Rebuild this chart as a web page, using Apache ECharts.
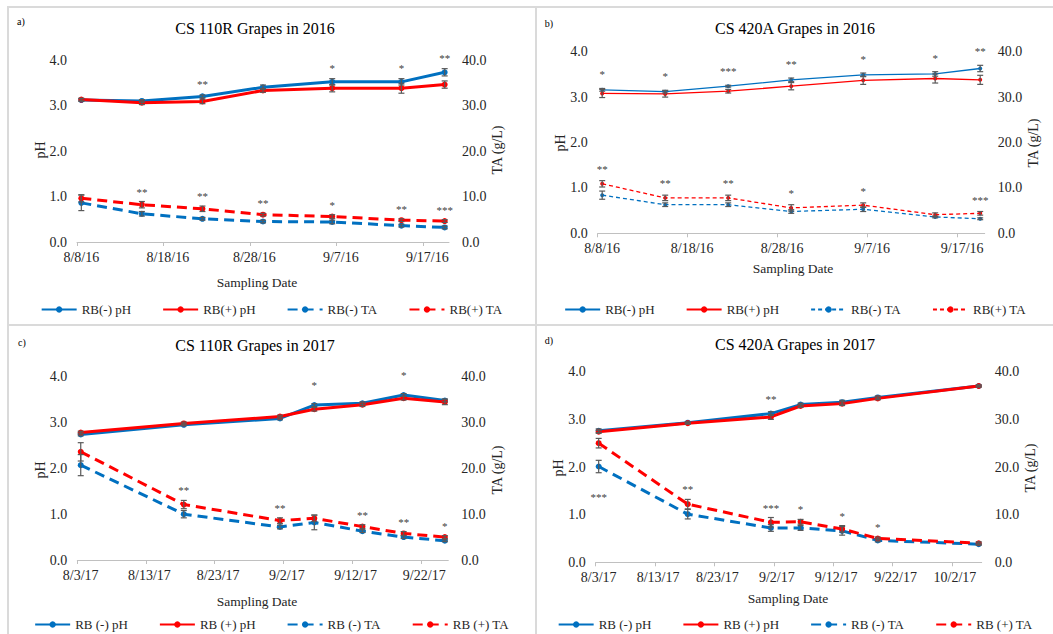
<!DOCTYPE html>
<html><head><meta charset="utf-8">
<script src="https://cdn.jsdelivr.net/npm/echarts@6/dist/echarts.min.js"></script>
<style>
html,body{margin:0;padding:0;background:#fff;width:1053px;height:634px;overflow:hidden;position:relative}
.frame{position:absolute;border:2px solid #dadada;box-sizing:border-box}
.chart{position:absolute}
</style></head><body>
<div class="frame" style="left:7px;top:6px;width:530px;height:320px"></div>
<div class="frame" style="left:535px;top:6px;width:530px;height:320px"></div>
<div class="frame" style="left:7px;top:324px;width:530px;height:320px"></div>
<div class="frame" style="left:535px;top:324px;width:530px;height:320px"></div>
<div id="ca" class="chart" style="left:9px;top:8px;width:525px;height:315px"></div>
<div id="cb" class="chart" style="left:537px;top:8px;width:516px;height:315px"></div>
<div id="cc" class="chart" style="left:9px;top:326px;width:525px;height:308px"></div>
<div id="cd" class="chart" style="left:537px;top:326px;width:516px;height:308px"></div>
<script>
// ---------- DATA ----------
// Panel a: CS 110R Grapes in 2016
const a_dates = ['2016-08-08','2016-08-15','2016-08-22','2016-08-29','2016-09-06','2016-09-14','2016-09-19'];
const a_phMinus = [3.12, 3.10, 3.20, 3.40, 3.52, 3.52, 3.73];
const a_phMinusErr = [0.03, 0.03, 0.03, 0.05, 0.07, 0.07, 0.08];
const a_phPlus = [3.13, 3.06, 3.09, 3.33, 3.38, 3.38, 3.46];
const a_phPlusErr = [0.03, 0.04, 0.05, 0.04, 0.08, 0.11, 0.08];
const a_taMinus = [8.6, 6.2, 5.1, 4.5, 4.4, 3.6, 3.2];
const a_taMinusErr = [1.7, 0.5, 0.3, 0.3, 0.4, 0.3, 0.3];
const a_taPlus = [9.6, 8.2, 7.3, 6.0, 5.6, 4.8, 4.6];
const a_taPlusErr = [0.8, 0.7, 0.6, 0.3, 0.4, 0.3, 0.3];
const a_phStars = ['', '', '**', '', '*', '*', '**'];
const a_taStars = ['', '**', '**', '**', '*', '**', '***'];

// Panel b: CS 420A Grapes in 2016
const b_dates = ['2016-08-08','2016-08-15','2016-08-22','2016-08-29','2016-09-06','2016-09-14','2016-09-19'];
const b_phMinus = [3.16, 3.12, 3.24, 3.38, 3.49, 3.51, 3.63];
const b_phMinusErr = [0.03, 0.03, 0.02, 0.04, 0.04, 0.05, 0.07];
const b_phPlus = [3.08, 3.07, 3.13, 3.24, 3.37, 3.41, 3.38];
const b_phPlusErr = [0.09, 0.07, 0.04, 0.08, 0.09, 0.10, 0.10];
const b_taMinus = [8.4, 6.3, 6.3, 4.8, 5.3, 3.6, 3.2];
const b_taMinusErr = [0.9, 0.4, 0.4, 0.4, 0.5, 0.2, 0.2];
const b_taPlus = [10.9, 7.8, 7.8, 5.6, 6.2, 4.1, 4.4];
const b_taPlusErr = [0.7, 0.6, 0.6, 0.7, 0.5, 0.4, 0.4];
const b_phStars = ['*', '*', '***', '**', '*', '*', '**'];
const b_taStars = ['**', '**', '**', '*', '*', '', '***'];

// Panel c: CS 110R Grapes in 2017
const c_dates = ['2017-08-03','2017-08-18','2017-09-01','2017-09-06','2017-09-13','2017-09-19','2017-09-25'];
const c_phMinus = [2.74, 2.95, 3.09, 3.38, 3.42, 3.60, 3.48];
const c_phMinusErr = [0.03, 0.02, 0.03, 0.03, 0.03, 0.03, 0.03];
const c_phPlus = [2.78, 2.98, 3.13, 3.29, 3.39, 3.53, 3.45];
const c_phPlusErr = [0.03, 0.03, 0.03, 0.04, 0.04, 0.04, 0.06];
const c_taMinus = [20.7, 10.0, 7.2, 8.2, 6.3, 5.0, 4.2];
const c_taMinusErr = [2.3, 0.8, 0.4, 1.6, 0.3, 0.3, 0.2];
const c_taPlus = [23.6, 12.1, 8.6, 9.1, 7.3, 5.8, 5.0];
const c_taPlusErr = [2.0, 0.9, 0.6, 0.7, 0.4, 0.4, 0.3];
const c_phStars = ['', '', '', '*', '', '*', ''];
const c_taStars = ['', '**', '**', '', '**', '**', '*'];

// Panel d: CS 420A Grapes in 2017
const d_dates = ['2017-08-03','2017-08-18','2017-09-01','2017-09-06','2017-09-13','2017-09-19','2017-10-06'];
const d_phMinus = [2.76, 2.93, 3.12, 3.31, 3.36, 3.46, 3.70];
const d_phMinusErr = [0.04, 0.02, 0.04, 0.03, 0.04, 0.03, 0.02];
const d_phPlus = [2.74, 2.92, 3.05, 3.28, 3.33, 3.44, 3.70];
const d_phPlusErr = [0.03, 0.02, 0.05, 0.03, 0.04, 0.03, 0.02];
const d_taMinus = [20.1, 10.1, 7.2, 7.2, 6.6, 4.6, 3.8];
const d_taMinusErr = [1.3, 1.0, 0.7, 0.5, 0.9, 0.3, 0.2];
const d_taPlus = [25.0, 12.2, 8.4, 8.5, 7.0, 5.0, 4.0];
const d_taPlusErr = [1.0, 1.0, 1.0, 0.5, 0.7, 0.3, 0.3];
const d_phStars = ['', '', '**', '', '', '', ''];
const d_taStars = ['***', '**', '***', '*', '*', '*', ''];

// axis tick labels
const phTicks = [0, 1, 2, 3, 4];
const taTicks = [0, 10, 20, 30, 40];
const names2016 = ['RB(-) pH', 'RB(+) pH', 'RB(-) TA', 'RB(+) TA'];
const names2017 = ['RB (-) pH', 'RB (+) pH', 'RB (-) TA', 'RB (+) TA'];

// ---------- RENDER ----------
const SERIF = "'Liberation Serif', 'Times New Roman', serif";
const BLUE = '#0070C0', RED = '#FF0000', ERR = '#595959', TXT = '#262626', STAR = '#404040';
const DAY = 86400000;
function utc(s){ const p = s.split('-').map(Number); return Date.UTC(p[0], p[1]-1, p[2]); }
function dayNum(s, base){ return (utc(s) - utc(base)) / DAY + 0.5; } // sample at mid-day
function fmtDate(v, base){
  const d = new Date(utc(base) + Math.floor(v + 1e-6) * DAY);
  return (d.getUTCMonth()+1) + '/' + d.getUTCDate() + '/' + String(d.getUTCFullYear()).slice(2);
}

const panels = [
  {el:'ca', letter:'a)', title:'CS 110R Grapes in 2016', base:'2016-08-08', xMax:43, names:names2016,
   dates:a_dates, phM:a_phMinus, phME:a_phMinusErr, phP:a_phPlus, phPE:a_phPlusErr,
   taM:a_taMinus, taME:a_taMinusErr, taP:a_taPlus, taPE:a_taPlusErr, phS:a_phStars, taS:a_taStars, below:[],
   thick:true, grid:{left:68, top:52, width:372, height:182},
   L:{title:[246,20], letter:[12,13], ph:[31,142], ta:[488,142], xname:[248,274], legend:290}, starOff:{ph:11, ta:10}},
  {el:'cb', letter:'b)', title:'CS 420A Grapes in 2016', base:'2016-08-08', xMax:43, names:names2016,
   dates:b_dates, phM:b_phMinus, phME:b_phMinusErr, phP:b_phPlus, phPE:b_phPlusErr,
   taM:b_taMinus, taME:b_taMinusErr, taP:b_taPlus, taPE:b_taPlusErr, phS:b_phStars, taS:b_taStars, below:[],
   thick:false, grid:{left:60.7, top:43.7, width:387, height:181.6},
   L:{title:[258,20], letter:[12,15], ph:[23,135], ta:[496,135], xname:[256,260], legend:290}, starOff:{ph:14, ta:12}},
  {el:'cc', letter:'c)', title:'CS 110R Grapes in 2017', base:'2017-08-03', xMax:54, names:names2017,
   dates:c_dates, phM:c_phMinus, phME:c_phMinusErr, phP:c_phPlus, phPE:c_phPlusErr,
   taM:c_taMinus, taME:c_taMinusErr, taP:c_taPlus, taPE:c_taPlusErr, phS:c_phStars, taS:c_taStars, below:[],
   thick:true, grid:{left:68.3, top:50.7, width:371, height:183.3},
   L:{title:[246,19], letter:[13,16], ph:[31,144], ta:[488,144], xname:[248,275], legend:287}, starOff:{ph:19, ta:10}},
  {el:'cd', letter:'d)', title:'CS 420A Grapes in 2017', base:'2017-08-03', xMax:65, names:names2017,
   dates:d_dates, phM:d_phMinus, phME:d_phMinusErr, phP:d_phPlus, phPE:d_phPlusErr,
   taM:d_taMinus, taME:d_taMinusErr, taP:d_taPlus, taPE:d_taPlusErr, phS:d_phStars, taS:d_taStars, below:[0],
   thick:true, grid:{left:58.7, top:45.7, width:386, height:190.6},
   L:{title:[258,18], letter:[12,14], ph:[21,142], ta:[493,142], xname:[251,272], legend:287}, starOff:{ph:13, ta:10}}
];

function errSeries(xs, vals, errs, yIdx){
  return {
    type:'custom', yAxisIndex:yIdx, z:5, silent:true, itemStyle:{color:ERR},
    data: xs.map((x,i)=>[x, vals[i], errs[i]]),
    encode:{x:0, y:1},
    renderItem:function(params, api){
      const x = api.value(0), v = api.value(1), e = api.value(2);
      const t = api.coord([x, v+e]), b = api.coord([x, v-e]);
      const c = 3, st = {stroke:ERR, lineWidth:1.2};
      return {type:'group', children:[
        {type:'line', shape:{x1:t[0], y1:t[1], x2:b[0], y2:b[1]}, style:st},
        {type:'line', shape:{x1:t[0]-c, y1:t[1], x2:t[0]+c, y2:t[1]}, style:st},
        {type:'line', shape:{x1:b[0]-c, y1:b[1], x2:b[0]+c, y2:b[1]}, style:st}
      ]};
    }
  };
}
function starSeries(xs, m, me, p, pe, stars, yIdx, off, below){
  return {
    type:'custom', yAxisIndex:yIdx, z:6, silent:true, itemStyle:{color:STAR},
    data: xs.map((x,i)=>[x, Math.max(m[i]+me[i], p[i]+pe[i]), Math.min(m[i]-me[i], p[i]-pe[i])]),
    encode:{x:0, y:1},
    renderItem:function(params, api){
      const s = stars[params.dataIndex];
      if (!s) return {type:'group', children:[]};
      const isBelow = below.indexOf(params.dataIndex) >= 0;
      const pt = api.coord([api.value(0), isBelow ? api.value(2) : api.value(1)]);
      return {type:'text', x:pt[0], y: isBelow ? pt[1] + off + 14 : pt[1] - off,
        style:{text:s, fill:STAR, fontSize:11, fontFamily:SERIF, textAlign:'center', textVerticalAlign:'middle'}};
    }
  };
}

panels.forEach(function(P){
  const chart = echarts.init(document.getElementById(P.el), null, {renderer:'svg'});
  const xs = P.dates.map(d => dayNum(d, P.base));
  const lw = P.thick ? 3 : 1.3, ss = P.thick ? 6 : 4;
  const dash = P.thick ? [10, 6] : [4, 3];
  const xTicks = []; for (let t = 0; t <= P.xMax; t += 10) xTicks.push(t);
  function line(name, vals, color, yIdx, dashed){
    return {name:name, type:'line', yAxisIndex:yIdx, symbol:'circle', symbolSize:ss, showSymbol:true,
      data: xs.map((x,i)=>[x, vals[i]]), z:3,
      lineStyle:{color:color, width:lw, type: dashed ? dash : 'solid'},
      itemStyle:{color:color}, emphasis:{disabled:true}};
  }
  function gtext(pos, text, size, fill, rot){
    return {type:'text', x:pos[0], y:pos[1], rotation:rot || 0,
      style:{text:text, fontSize:size, fontFamily:SERIF, fill:fill, textAlign:'center', textVerticalAlign:'middle'}};
  }
  const opt = {
    animation:false,
    grid: P.grid,
    textStyle:{fontFamily:SERIF},
    legend:{data:P.names, left:'center', top:P.L.legend, itemWidth:35, itemHeight:8, itemGap:31,
      textStyle:{fontFamily:SERIF, fontSize:13, color:TXT}},
    xAxis:{type:'value', min:0, max:P.xMax, interval:10, splitLine:{show:false},
      axisLine:{show:true, onZero:false, lineStyle:{color:'#c0c0c0', width:1}},
      axisTick:{show:true, length:4, lineStyle:{color:'#c0c0c0'}, customValues:xTicks},
      axisLabel:{customValues:xTicks.map(t=>t+0.5), formatter:v=>fmtDate(v, P.base),
        fontFamily:SERIF, fontSize:14, color:TXT, margin:8}},
    yAxis:[
      {type:'value', min:phTicks[0], max:phTicks[phTicks.length-1], interval:1, position:'left',
        axisLine:{show:false}, axisTick:{show:false}, splitLine:{show:false},
        axisLabel:{formatter:v=>v.toFixed(1), fontFamily:SERIF, fontSize:14, color:TXT, margin:10}},
      {type:'value', min:taTicks[0], max:taTicks[taTicks.length-1], interval:10, position:'right',
        axisLine:{show:false}, axisTick:{show:false}, splitLine:{show:false},
        axisLabel:{formatter:v=>v.toFixed(1), fontFamily:SERIF, fontSize:14, color:TXT, margin:13}}
    ],
    graphic:[
      gtext(P.L.title, P.title, 16, '#000'),
      gtext(P.L.letter, P.letter, 10, '#000'),
      gtext(P.L.ph, 'pH', 14, TXT, Math.PI/2),
      gtext(P.L.ta, 'TA (g/L)', 14, TXT, Math.PI/2),
      gtext(P.L.xname, 'Sampling Date', 13.5, TXT)
    ],
    series:[
      line(P.names[0], P.phM, BLUE, 0, false),
      line(P.names[1], P.phP, RED, 0, false),
      line(P.names[2], P.taM, BLUE, 1, true),
      line(P.names[3], P.taP, RED, 1, true),
      errSeries(xs, P.phM, P.phME, 0),
      errSeries(xs, P.phP, P.phPE, 0),
      errSeries(xs, P.taM, P.taME, 1),
      errSeries(xs, P.taP, P.taPE, 1),
      starSeries(xs, P.phM, P.phME, P.phP, P.phPE, P.phS, 0, P.starOff.ph, []),
      starSeries(xs, P.taM, P.taME, P.taP, P.taPE, P.taS, 1, P.starOff.ta, P.below)
    ]
  };
  chart.setOption(opt);
});
</script>
</body></html>
